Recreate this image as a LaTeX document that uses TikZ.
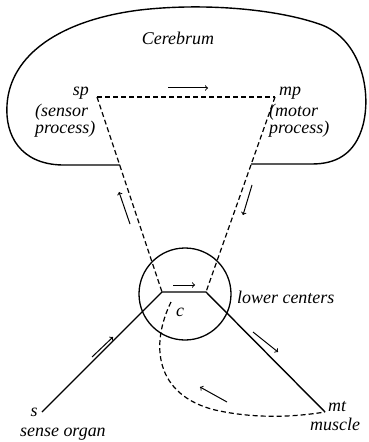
\documentclass[tikz,border=0pt]{standalone}
\usepackage{fontspec}
\setmainfont{Liberation Serif}
\usetikzlibrary{arrows,positioning}

\begin{document}
\begin{tikzpicture}[x=1bp, y=-1bp, font=\itshape\fontsize{18}{15}\selectfont]
    % Define styles
    \tikzstyle{nerve} = [line width=1.4bp]
    \tikzstyle{brainpath} = [line width=1.2bp, dash pattern=on 5bp off 3bp]
    \tikzstyle{arrow} = [line width=1bp,->,>=to]
    \tikzstyle{tag} = [inner sep=0pt]

    \useasboundingbox (0,0) rectangle (368,442);

    % Points
    \coordinate (sp) at (97,97);
    \coordinate (mp) at (275,97);
    \coordinate (jl) at (162,292);
    \coordinate (jr) at (206,292);
    \coordinate (s) at (42,412);
    \coordinate (mt) at (325,412);
    \coordinate (c) at (171,302);
    \node [draw, line width=1.3bp, circle, minimum size=92bp, inner sep=0pt] (lc) at (185,294) {};

    % Cerebrum outline
    \draw [nerve] (120,165) -- (62,165) .. controls (20,164) and (5,135) .. (7,105)
        .. controls (10,55) and (60,20) .. (140,10) .. controls (200,3) and (275,8) .. (322,25)
        .. controls (360,40) and (372,90) .. (363,125) .. controls (355,155) and (335,164) .. (312,164)
        -- (251,164);

    % Labels
    \node [tag] (cerebrum) at (178,38) {Cerebrum};
    \node [tag, anchor=base east] (sptag) at (89,96) {sp};
    \node [tag, anchor=north west, align=left] (spnote) at (35,104) {(sensor\\process)};
    \node [tag, anchor=base west] (mptag) at (279,96) {mp};
    \node [tag, anchor=north west, align=left] (mpnote) at (269,104) {(motor\\process)};
    \node [tag, anchor=west] (lctag) at (237,297) {lower centers};
    \node [tag] (ctag) at (180,312) {c};
    \node [tag, anchor=base] (stag) at (34,416) {s};
    \node [tag, anchor=north west] (sorgan) at (20,428) {sense organ};
    \node [tag, anchor=base west] (mttag) at (328,411) {mt};
    \node [tag, anchor=north west] (muscle) at (310,418) {muscle};

    % Pathways
    \draw [brainpath] (sp) -- (mp);
    \draw [brainpath] (sp) -- (jl);
    \draw [brainpath] (mp) -- (jr);
    \draw [nerve] (s) -- (jl) -- (jr) -- (mt);
    \draw [brainpath] (c) .. controls (150,345) and (155,395) .. (215,410)
        .. controls (260,420) and (300,416) .. (mt);

    % Arrows
    \draw [arrow] (168,88) -- (208,88);
    \draw [arrow] (130,224) -- (119,192);
    \draw [arrow] (252,185) -- (243,215);
    \draw [arrow] (173,285) -- (195,285);
    \draw [arrow] (92,357) -- (113,337);
    \draw [arrow] (253,332) -- (278,352);
    \draw [arrow] (227,402) -- (200,387);
\end{tikzpicture}
\end{document}
